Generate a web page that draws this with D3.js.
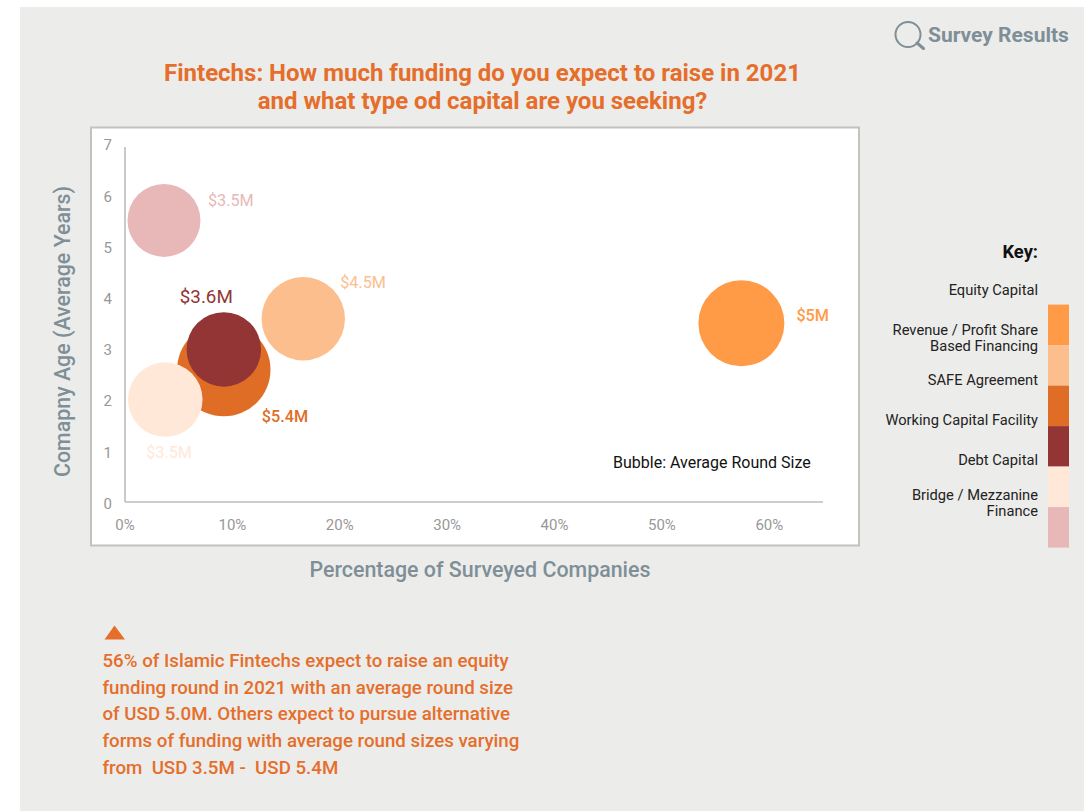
<!DOCTYPE html>
<html><head><meta charset="utf-8">
<script src="https://cdn.jsdelivr.net/npm/d3@7/dist/d3.min.js"></script>
<style>html,body{margin:0;padding:0;background:#fff}svg{display:block;font-family:Roboto,sans-serif}text{white-space:pre}</style>
</head><body><svg id="c" width="1084" height="811"></svg>
<script>
const categories=["Equity Capital","Revenue / Profit Share Based Financing","SAFE Agreement","Working Capital Facility","Debt Capital","Bridge / Mezzanine Finance"];
const keyLines=[["Equity Capital"],["Revenue / Profit Share","Based Financing"],["SAFE Agreement"],["Working Capital Facility"],["Debt Capital"],["Bridge / Mezzanine","Finance"]];
const keyTextY=[295,335,385,425,465,500];
const colors=["#FF9A47","#FDBE8E","#E06D26","#943535","#FFE8D8","#E7B8B7"];
const pctCompanies=[57.4,16.6,9.2,9.2,3.75,3.63];
const ageYears=[3.49,3.58,2.585,2.98,2.0,5.5];
const bubbleArea=[4.76,4.48,5.62,3.58,3.58,3.43];
const roundLabels=["$5M","$4.5M","$5.4M","$3.6M","$3.5M","$3.5M"];
const labelDx=[55,37,38,-44,-19,44];
const labelDy=[-2,-31,52,-46,58,-14];
const drawOrder=[5,0,1,2,3,4];
const xTicks=[0,10,20,30,40,50,60];
const yTicks=[0,1,2,3,4,5,6,7];
const titleLines=["Fintechs: How much funding do you expect to raise in 2021","and what type od capital are you seeking?"];
const noteLines=["56% of Islamic Fintechs expect to raise an equity","funding round in 2021 with an average round size","of USD 5.0M. Others expect to pursue alternative","forms of funding with average round sizes varying","from  USD 3.5M -  USD 5.4M"];

const svg=d3.select("#c");
const orange="#E56E2B", slate="#7F8F98", tick="#989898", axisCol="#BFBBBB";
svg.append("rect").attr("x",20).attr("y",7).attr("width",1064).attr("height",804).attr("fill","#ECECEA");
svg.append("rect").attr("x",91).attr("y",127.5).attr("width",768).attr("height",418).attr("fill","#fff").attr("stroke","#C4C1BF").attr("stroke-width",2);

const x=d3.scaleLinear().domain([0,65]).range([125,823]);
const y=d3.scaleLinear().domain([0,7]).range([502,143.6]);
const r=d3.scaleSqrt().domain([0,5.62]).range([0,46.7]);

const gx=svg.append("g").attr("transform","translate(-0.5,502)").call(d3.axisBottom(x).tickValues(xTicks).tickFormat(d=>d+"%").tickSize(0).tickPadding(17));
const gy=svg.append("g").attr("transform","translate(125,0)").call(d3.axisLeft(y).tickValues(yTicks).tickFormat(d3.format("d")).tickSize(0).tickPadding(13));
[gx,gy].forEach(g=>{g.selectAll("text").attr("font-family","Roboto").attr("font-size",15).attr("fill",tick);
  g.select(".domain").attr("stroke",axisCol).attr("stroke-width",1.6);});
gy.selectAll("text").attr("y",1.5);
gx.select(".domain").attr("d","M125.5,0H823.5");
gy.select(".domain").attr("d","M0,147V502");

const pts=drawOrder.map(i=>({i}));
svg.append("g").selectAll("circle").data(pts).join("circle")
  .attr("cx",d=>x(pctCompanies[d.i])).attr("cy",d=>y(ageYears[d.i])).attr("r",d=>r(bubbleArea[d.i])).attr("fill",d=>colors[d.i]);
svg.append("g").selectAll("text").data(pts).join("text")
  .attr("x",d=>x(pctCompanies[d.i])+labelDx[d.i]).attr("y",d=>y(ageYears[d.i])+labelDy[d.i])
  .attr("font-size",d=>d.i===3?18.8:16.2).attr("fill",d=>colors[d.i]).attr("font-weight",d=>(d.i===2||d.i===0)?500:400)
  .text(d=>roundLabels[d.i]);

svg.append("text").attr("x",613).attr("y",468).attr("font-size",16).attr("fill","#111").text("Bubble: Average Round Size");

svg.append("text").attr("transform","translate(70,331.5) rotate(-90)").attr("text-anchor","middle").attr("font-size",21.4).attr("font-weight",500).attr("fill",slate).text("Comapny Age (Average Years)");
svg.append("text").attr("x",480).attr("y",577).attr("text-anchor","middle").attr("font-size",21.4).attr("font-weight",500).attr("fill",slate).text("Percentage of Surveyed Companies");

svg.append("g").selectAll("text").data(titleLines).join("text").attr("x",482.5).attr("y",(d,i)=>81+i*28)
  .attr("text-anchor","middle").attr("font-size",24).attr("font-weight",700).attr("fill",orange).text(d=>d);

// survey badge
svg.append("circle").attr("cx",908).attr("cy",34.5).attr("r",12.5).attr("fill","none").attr("stroke",slate).attr("stroke-width",2);
svg.append("line").attr("x1",917).attr("y1",43).attr("x2",923.5).attr("y2",48.5).attr("stroke",slate).attr("stroke-width",3).attr("stroke-linecap","round");
svg.append("text").attr("x",928).attr("y",42).attr("font-size",21).attr("font-weight",700).attr("fill",slate).text("Survey Results");

// key
svg.append("text").attr("x",1038).attr("y",258).attr("text-anchor","end").attr("font-size",18.3).attr("font-weight",700).attr("fill","#111").text("Key:");
const keyY=d3.scaleBand().domain(d3.range(categories.length)).range([304.6,547.6]);
svg.append("g").selectAll("rect").data(colors).join("rect").attr("x",1048).attr("width",21)
  .attr("y",(d,i)=>keyY(i)).attr("height",keyY.bandwidth()).attr("fill",d=>d);
keyLines.forEach((ls,i)=>ls.forEach((t,j)=>svg.append("text").attr("x",1038).attr("y",keyTextY[i]+j*16).attr("text-anchor","end").attr("font-size",14.7).attr("fill","#222").text(t)));

// note
svg.append("path").attr("d","M104.5,639.5L114.5,625.5L125,639.5Z").attr("fill",orange);
svg.append("g").selectAll("text").data(noteLines).join("text").attr("x",102.5).attr("y",(d,i)=>667+i*26.7)
  .attr("font-size",18.7).attr("font-weight",500).attr("fill",orange).text(d=>d);
</script></body></html>
